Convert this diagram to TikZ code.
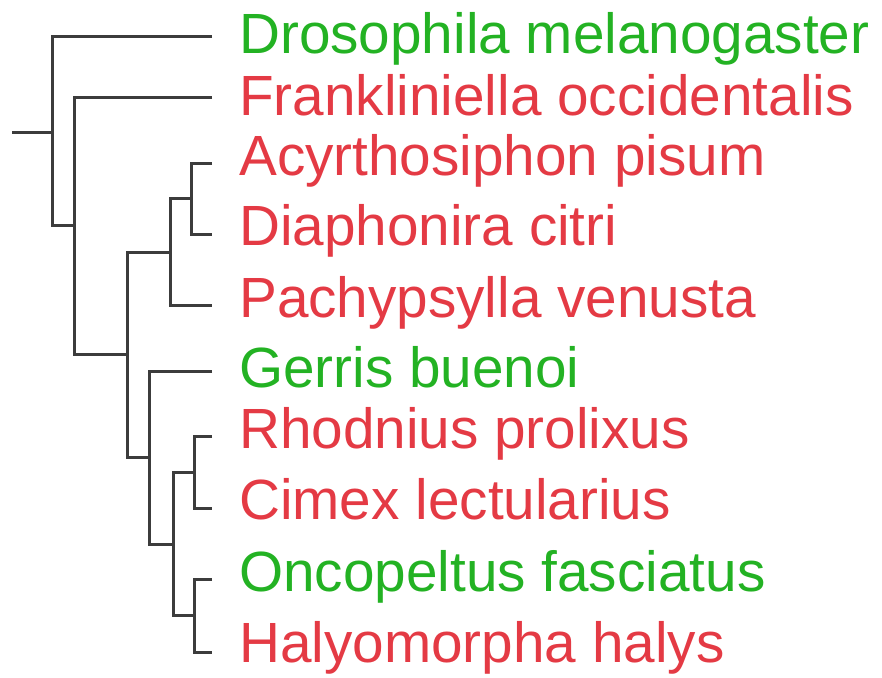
\documentclass[tikz,border=0pt]{standalone}
\usepackage{fontspec}
\setmainfont{Liberation Sans}
\definecolor{tgreen}{RGB}{35,178,35}
\definecolor{tred}{RGB}{228,58,68}
\definecolor{branch}{RGB}{60,60,60}
\begin{document}
\begin{tikzpicture}[x=1pt,y=-1pt,
  br/.style={draw=branch,line width=3pt,line join=miter},
  lab/.style={anchor=base west,inner sep=0pt,font=\fontsize{56.7}{60}\selectfont},
  grn/.style={lab,text=tgreen},
  rd/.style={lab,text=tred}]
\useasboundingbox (0,0) rectangle (882,677);
% leaf tips
\coordinate (tDro) at (212,37);
\coordinate (tFra) at (212,97);
\coordinate (tAcy) at (212,163);
\coordinate (tDia) at (212,234);
\coordinate (tPac) at (212,305);
\coordinate (tGer) at (212,371);
\coordinate (tRho) at (212,436);
\coordinate (tCim) at (212,508);
\coordinate (tOnc) at (212,579);
\coordinate (tHal) at (212,652);
% internal nodes
\coordinate (stub) at (12,132);
\coordinate (n0) at (52,132);
\coordinate (n1) at (74,225);
\coordinate (n2) at (127,354);
\coordinate (n3) at (170,252);
\coordinate (n4) at (191,198);
\coordinate (n6) at (149,457);
\coordinate (n7) at (173,544);
\coordinate (n8) at (194,472);
\coordinate (n9) at (194,615);
% branches
\draw[br] (stub) -- (n0);
\draw[br] (tDro) -| (n0) |- (n1);
\draw[br] (tFra) -| (n1) |- (n2);
\draw[br] (n3) -| (n2) |- (n6);
\draw[br] (n4) -| (n3) |- (tPac);
\draw[br] (tAcy) -| (n4) |- (tDia);
\draw[br] (tGer) -| (n6) |- (n7);
\draw[br] (n8) -| (n7) |- (n9);
\draw[br] (tRho) -| (n8) |- (tCim);
\draw[br] (tOnc) -| (n9) |- (tHal);
% labels
\node[grn] (lDro) at (239,53) {Drosophila melanogaster};
\node[rd]  (lFra) at (239,115) {Frankliniella occidentalis};
\node[rd]  (lAcy) at (239,175) {Acyrthosiphon pisum};
\node[rd]  (lDia) at (239,245) {Diaphonira citri};
\node[rd]  (lPac) at (239,317) {Pachypsylla venusta};
\node[grn] (lGer) at (239,387) {Gerris buenoi};
\node[rd]  (lRho) at (239,448) {Rhodnius prolixus};
\node[rd]  (lCim) at (239,519) {Cimex lectularius};
\node[grn] (lOnc) at (239,591) {Oncopeltus fasciatus};
\node[rd]  (lHal) at (239,662) {Halyomorpha halys};
\end{tikzpicture}
\end{document}
